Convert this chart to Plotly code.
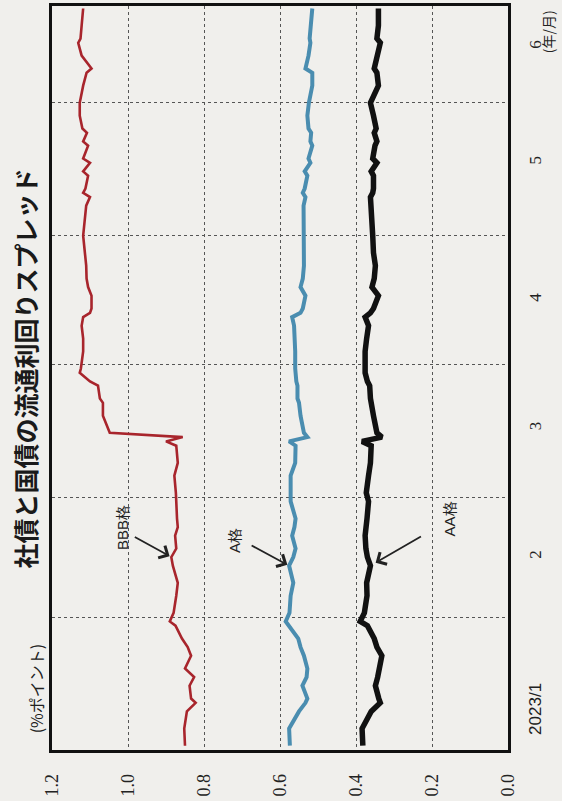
import plotly.graph_objects as go

dates = ["2023-01-02", "2023-01-06", "2023-01-10", "2023-01-12", "2023-01-13", "2023-01-16",
         "2023-01-18", "2023-01-20", "2023-01-23", "2023-01-25", "2023-01-27", "2023-01-30",
         "2023-01-31", "2023-02-02", "2023-02-06", "2023-02-09", "2023-02-13", "2023-02-15",
         "2023-02-17", "2023-02-20", "2023-02-22", "2023-02-24", "2023-02-28", "2023-03-02",
         "2023-03-06", "2023-03-09", "2023-03-13", "2023-03-14", "2023-03-15", "2023-03-16",
         "2023-03-20", "2023-03-23", "2023-03-24", "2023-03-27", "2023-03-28", "2023-03-30",
         "2023-03-31", "2023-04-04", "2023-04-07", "2023-04-10", "2023-04-12", "2023-04-13",
         "2023-04-14", "2023-04-17", "2023-04-19", "2023-04-21", "2023-04-24", "2023-04-27",
         "2023-05-01", "2023-05-08", "2023-05-10", "2023-05-11", "2023-05-12", "2023-05-15",
         "2023-05-16", "2023-05-18", "2023-05-19", "2023-05-22", "2023-05-23", "2023-05-25",
         "2023-05-26", "2023-05-29", "2023-06-01", "2023-06-05", "2023-06-08", "2023-06-09",
         "2023-06-12", "2023-06-15", "2023-06-16", "2023-06-19", "2023-06-22", "2023-06-23"]

bbb = [0.850, 0.852, 0.845, 0.822, 0.834, 0.838, 0.826, 0.850, 0.834, 0.843, 0.858, 0.875,
       0.890, 0.880, 0.873, 0.869, 0.882, 0.886, 0.873, 0.876, 0.869, 0.871, 0.873, 0.874,
       0.878, 0.869, 0.873, 0.900, 0.856, 1.048, 1.066, 1.066, 1.074, 1.079, 1.100, 1.127,
       1.124, 1.118, 1.118, 1.122, 1.118, 1.100, 1.096, 1.096, 1.105, 1.109, 1.110, 1.114,
       1.118, 1.110, 1.100, 1.118, 1.112, 1.105, 1.118, 1.100, 1.118, 1.105, 1.118, 1.108,
       1.120, 1.127, 1.127, 1.118, 1.109, 1.096, 1.122, 1.131, 1.125, 1.122, 1.118, 1.118]

a_grade = [0.574, 0.576, 0.550, 0.533, 0.528, 0.541, 0.530, 0.528, 0.537, 0.546, 0.552, 0.575,
           0.585, 0.575, 0.572, 0.565, 0.576, 0.565, 0.559, 0.568, 0.562, 0.559, 0.572, 0.572,
           0.572, 0.560, 0.559, 0.576, 0.528, 0.537, 0.546, 0.550, 0.554, 0.554, 0.557, 0.559,
           0.560, 0.560, 0.562, 0.563, 0.568, 0.546, 0.540, 0.533, 0.546, 0.540, 0.537, 0.537,
           0.537, 0.538, 0.533, 0.540, 0.535, 0.528, 0.535, 0.520, 0.525, 0.515, 0.520, 0.518,
           0.525, 0.528, 0.524, 0.515, 0.515, 0.533, 0.525, 0.520, 0.522, 0.518, 0.515, 0.515]

aa = [0.382, 0.384, 0.360, 0.336, 0.340, 0.349, 0.343, 0.338, 0.332, 0.345, 0.352, 0.370,
      0.389, 0.378, 0.371, 0.372, 0.362, 0.370, 0.374, 0.376, 0.372, 0.371, 0.367, 0.373,
      0.367, 0.362, 0.360, 0.384, 0.332, 0.345, 0.354, 0.360, 0.362, 0.364, 0.370, 0.376,
      0.376, 0.376, 0.372, 0.367, 0.376, 0.362, 0.354, 0.341, 0.358, 0.352, 0.349, 0.354,
      0.356, 0.358, 0.362, 0.356, 0.354, 0.354, 0.360, 0.345, 0.356, 0.350, 0.345, 0.352,
      0.347, 0.354, 0.362, 0.341, 0.345, 0.352, 0.345, 0.336, 0.345, 0.341, 0.341, 0.341]

value_ticks = [0.0, 0.2, 0.4, 0.6, 0.8, 1.0, 1.2]
value_labels = ["0.0", "0.2", "0.4", "0.6", "0.8", "1.0", "1.2"]
month_label_pos = ["2023-01-10", "2023-02-15", "2023-03-17", "2023-04-16", "2023-05-18", "2023-06-14"]
month_labels = ["<span style='font-family:Liberation Sans'>2023/1</span>",
                "2", "3", "4", "5", "6"]
month_bounds = ["2023-02-01", "2023-03-01", "2023-04-01", "2023-05-01", "2023-06-01"]

BG = "#f0efec"
GRID = "#555555"

fig = go.Figure()
fig.add_trace(go.Scatter(x=bbb, y=dates, mode="lines", line=dict(color="#a8252c", width=2.6), name="BBB格"))
fig.add_trace(go.Scatter(x=a_grade, y=dates, mode="lines", line=dict(color="#4a8db0", width=4), name="A格"))
fig.add_trace(go.Scatter(x=aa, y=dates, mode="lines", line=dict(color="#111111", width=5.5), name="AA格"))

fig.update_layout(
    width=562, height=801,
    margin=dict(l=52, r=54, t=6, b=51),
    paper_bgcolor=BG, plot_bgcolor=BG,
    showlegend=False,
    font=dict(family="Noto Sans CJK JP", color="#222"),
    xaxis=dict(
        range=[1.2, 0.0], tickmode="array", tickvals=value_ticks, ticktext=value_labels,
        tickangle=-90, ticks="", ticklabelstandoff=14, automargin=False,
        tickfont=dict(family="Liberation Serif", size=18, color="#222"),
        showgrid=True, griddash="dot", gridcolor=GRID, gridwidth=1,
        zeroline=False, showline=True, mirror=True, linecolor="#111", linewidth=2.5,
    ),
    yaxis=dict(
        type="date", range=["2023-01-01", "2023-06-23 14:00"], side="right",
        tickmode="array", tickvals=month_label_pos, ticktext=month_labels,
        tickangle=-90, ticks="", ticklabelstandoff=10, automargin=False,
        tickfont=dict(family="Liberation Serif", size=17, color="#222"),
        showgrid=False,
        minor=dict(tickmode="array", tickvals=month_bounds, showgrid=True,
                   griddash="dot", gridcolor=GRID, gridwidth=1, ticks=""),
        zeroline=False, showline=True, mirror=True, linecolor="#111", linewidth=2.5,
    ),
)

ann = []
ann.append(dict(text="<b>社債と国債の流通利回りスプレッド</b>", xref="paper", yref="paper",
                x=-0.059, y=0.513, xanchor="center", yanchor="middle",
                textangle=-90, showarrow=False,
                font=dict(size=25, family="Noto Sans CJK JP", color="#1a1a1a")))
ann.append(dict(text="(%ポイント)", xref="paper", yref="paper",
                x=-0.035, y=0.083, xanchor="center", yanchor="middle",
                textangle=-90, showarrow=False,
                font=dict(size=16, family="Noto Sans CJK JP", color="#222")))
ann.append(dict(text="(年/月)", xref="paper", yref="paper",
                x=1.088, y=0.965, xanchor="center", yanchor="middle",
                textangle=-90, showarrow=False,
                font=dict(size=14, family="Noto Sans CJK JP", color="#222")))

label_font = dict(size=15, family="Liberation Sans Narrow, Liberation Sans", color="#222")
ann.append(dict(text="BBB格", x=1.016, y="2023-02-22", xref="x", yref="y",
                xanchor="center", yanchor="middle",
                textangle=-90, showarrow=False, font=label_font))
ann.append(dict(text="A格", x=0.718, y="2023-02-18 19:00", xref="x", yref="y",
                xanchor="center", yanchor="middle",
                textangle=-90, showarrow=False, font=label_font))
ann.append(dict(text="AA格", x=0.153, y="2023-02-24", xref="x", yref="y",
                xanchor="center", yanchor="middle",
                textangle=-90, showarrow=False, font=label_font))

i_bbb = dates.index("2023-02-15")
i_a = dates.index("2023-02-13")
i_aa = dates.index("2023-02-13")
arrow_style = dict(showarrow=True, arrowhead=4, arrowsize=1.5, arrowwidth=1.8,
                   arrowcolor="#222", xref="x", yref="y", text="")
ann.append(dict(x=bbb[i_bbb], y=dates[i_bbb], ax=-38, ay=-21, standoff=2, **arrow_style))
ann.append(dict(x=a_grade[i_a], y=dates[i_a], ax=-39, ay=-21, standoff=2, **arrow_style))
ann.append(dict(x=aa[i_aa], y=dates[i_aa], ax=52, ay=-30, standoff=6, **arrow_style))

fig.update_layout(annotations=ann)
fig.write_html("out.html", config={"displayModeBar": False},
               post_script="document.body.style.margin='0';document.body.style.overflow='hidden';")
